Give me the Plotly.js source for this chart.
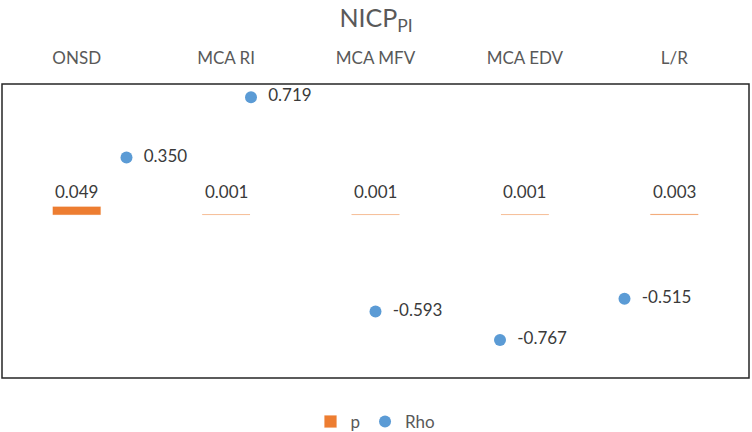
<!DOCTYPE html>
<html>
<head>
<meta charset="utf-8">
<script src="https://cdn.plot.ly/plotly-3.0.1.min.js"></script>
<style>html,body{margin:0;padding:0;background:#fff;}#chart{width:752px;height:432px;}</style>
</head>
<body>
<div id="chart"></div>
<script>
const categories = ["ONSD", "MCA RI", "MCA MFV", "MCA EDV", "L/R"];
const pValues = [0.049, 0.001, 0.001, 0.001, 0.003];
const pLabels = ["0.049", "0.001", "0.001", "0.001", "0.003"];
const rhoX = [1, 2, 3, 4, 5];
const rhoValues = [0.350, 0.719, -0.593, -0.767, -0.515];
const rhoLabels = ["0.350", "0.719", "-0.593", "-0.767", "-0.515"];

const FONT = "Lato, 'Open Sans', sans-serif";
const TXT = "#3a3a3a";

const traces = [
  {
    type: "bar",
    name: "p",
    x: categories,
    y: pValues,
    width: 0.32,
    marker: { color: "#ED7D31", line: { color: "rgba(237,125,49,0.22)", width: 0.8 } },
    hoverinfo: "skip",
    xaxis: "x",
    yaxis: "y"
  },
  {
    type: "scatter",
    mode: "markers+text",
    name: "Rho",
    x: rhoX,
    y: rhoValues,
    text: rhoLabels,
    texttemplate: "  %{text}",
    textposition: "middle right",
    textfont: { family: FONT, size: 17, color: TXT },
    marker: { color: "#5B9BD5", size: 12 },
    cliponaxis: false,
    xaxis: "x2",
    yaxis: "y"
  }
];

const annotations = categories.map((c, i) => ({
  x: c, y: 0, xref: "x", yref: "y",
  text: pLabels[i], showarrow: false,
  yanchor: "middle", yshift: 23,
  font: { family: FONT, size: 17, color: TXT }
}));

const layout = {
  width: 752, height: 432,
  margin: { l: 2, r: 3, t: 84, b: 54, autoexpand: false },
  paper_bgcolor: "#fff", plot_bgcolor: "#fff",
  font: { family: FONT, color: "#595959" },
  title: {
    text: "NICP<sub>PI</sub>",
    font: { family: FONT, size: 25, color: "#595959" },
    x: 0.5, xanchor: "center",
    y: 1 - 18 / 432, yanchor: "middle", yref: "container"
  },
  xaxis: {
    type: "category", side: "top",
    range: [-0.5, 4.5],
    showgrid: false, zeroline: false, showline: false,
    ticks: "", ticklabelstandoff: 16,
    tickfont: { family: FONT, size: 17, color: "#595959" },
    fixedrange: true
  },
  xaxis2: {
    overlaying: "x", side: "bottom",
    range: [0, 6],
    visible: false, fixedrange: true
  },
  yaxis: {
    range: [-1, 0.8],
    visible: false, showgrid: false, zeroline: false, fixedrange: true
  },
  showlegend: true,
  legend: {
    orientation: "h", x: 0.5, xanchor: "center",
    yref: "container", y: 10 / 432, yanchor: "middle",
    font: { family: FONT, size: 17, color: "#595959" },
    itemwidth: 30, traceorder: "normal"
  },
  shapes: [{
    type: "rect", xref: "paper", yref: "paper",
    x0: 0, x1: 1, y0: 0, y1: 1,
    line: { color: "#262626", width: 1.5 }
  }],
  annotations: annotations,
  bargap: 0
};

Plotly.newPlot("chart", traces, layout, { displayModeBar: false, staticPlot: true });
</script>
</body>
</html>
